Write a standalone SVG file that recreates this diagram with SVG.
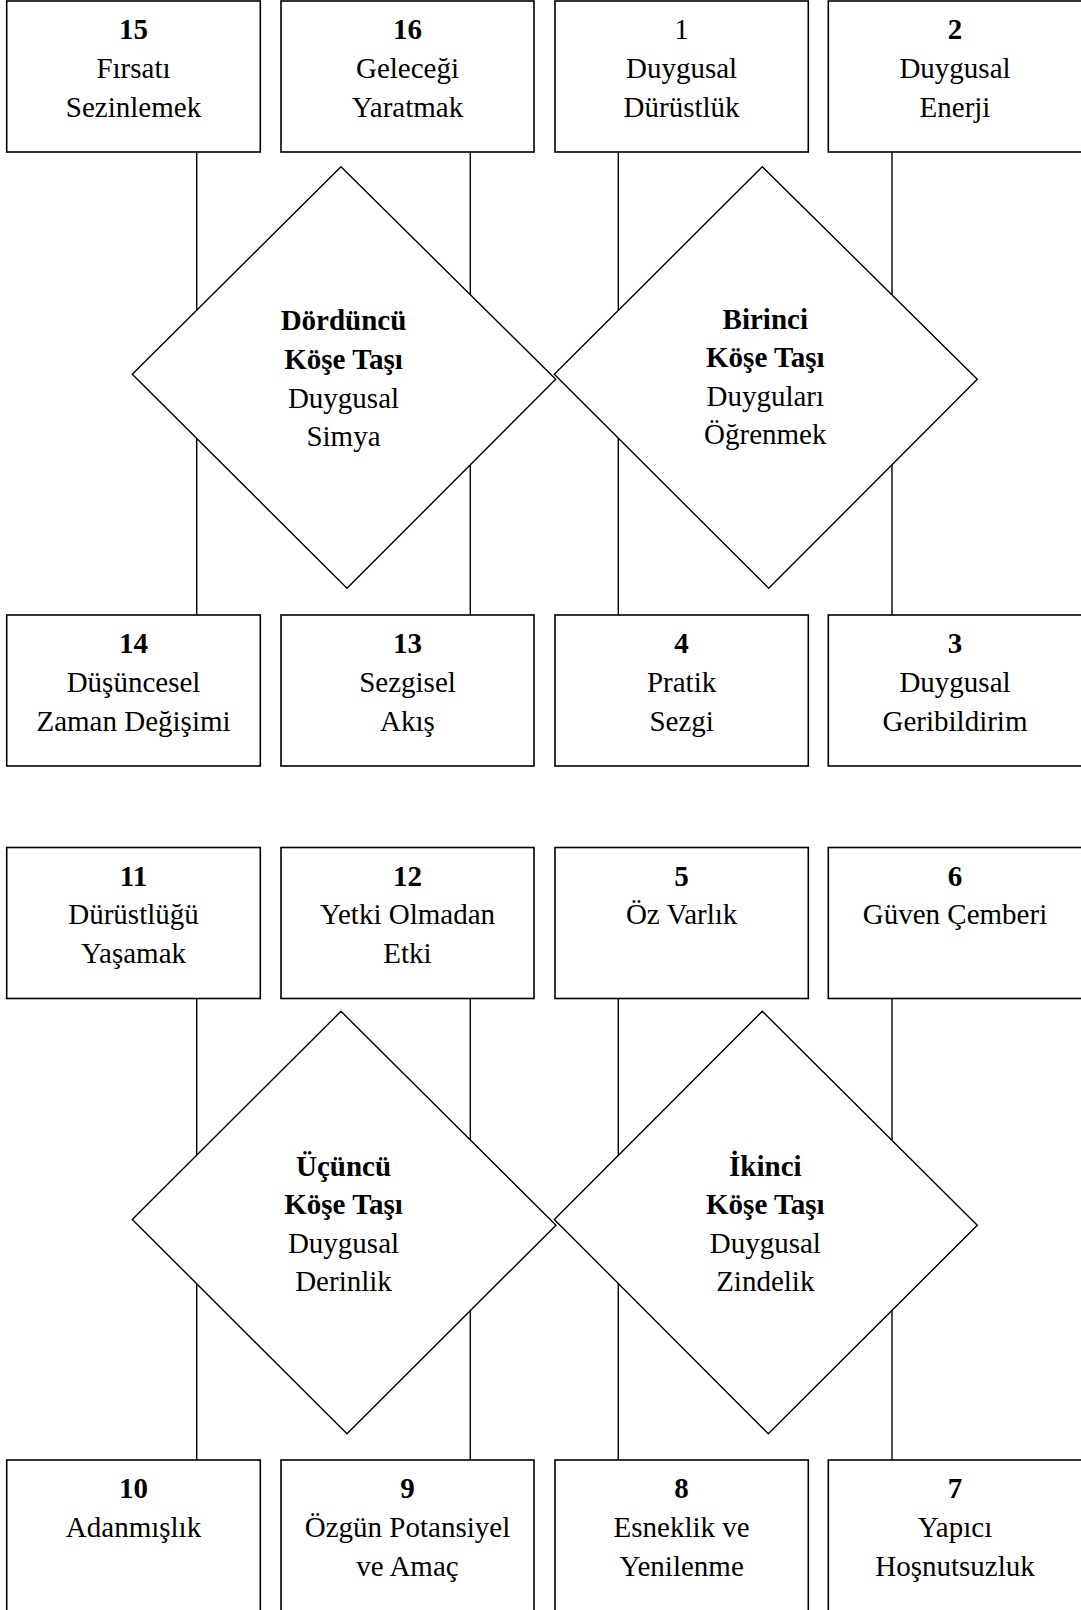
<svg xmlns="http://www.w3.org/2000/svg" width="1081" height="1610" viewBox="0 0 1081 1610">
<style>
.box{fill:#fff;stroke:#000;stroke-width:1.6}
.dia{fill:#fff;stroke:#000;stroke-width:1.4;stroke-linejoin:miter}
.conn line{stroke:#000;stroke-width:1.4}
text{font-family:"Liberation Serif","Times New Roman",serif;font-size:29px;fill:#000;text-anchor:middle}
.b{font-weight:bold}
</style>
<rect width="1081" height="1610" fill="#fff"/>
<g id="connectors" class="conn">
<line x1="196.7" y1="152" x2="196.7" y2="615"/>
<line x1="470.3" y1="152" x2="470.3" y2="615"/>
<line x1="618.3" y1="152" x2="618.3" y2="615"/>
<line x1="892" y1="152" x2="892" y2="615"/>
<line x1="196.7" y1="998.5" x2="196.7" y2="1460"/>
<line x1="470.3" y1="998.5" x2="470.3" y2="1460"/>
<line x1="618.3" y1="998.5" x2="618.3" y2="1460"/>
<line x1="892" y1="998.5" x2="892" y2="1460"/>
</g>
<g id="n15"><rect class="box" x="6.7" y="1" width="253.6" height="151"/><text x="133.5" y="39" class="b">15</text><text x="133.5" y="77.5">Fırsatı</text><text x="133.5" y="116.5">Sezinlemek</text></g>
<g id="n16"><rect class="box" x="281" y="1" width="253" height="151"/><text x="407.5" y="39" class="b">16</text><text x="407.5" y="77.5">Geleceği</text><text x="407.5" y="116.5">Yaratmak</text></g>
<g id="n1"><rect class="box" x="555" y="1" width="253.3" height="151"/><text x="681.6" y="39">1</text><text x="681.6" y="77.5">Duygusal</text><text x="681.6" y="116.5">Dürüstlük</text></g>
<g id="n2"><rect class="box" x="828.3" y="1" width="253.5" height="151"/><text x="955" y="39" class="b">2</text><text x="955" y="77.5">Duygusal</text><text x="955" y="116.5">Enerji</text></g>
<g id="n14"><rect class="box" x="6.7" y="615" width="253.6" height="151"/><text x="133.5" y="653.3" class="b">14</text><text x="133.5" y="691.5">Düşüncesel</text><text x="133.5" y="730.5">Zaman Değişimi</text></g>
<g id="n13"><rect class="box" x="281" y="615" width="253" height="151"/><text x="407.5" y="653.3" class="b">13</text><text x="407.5" y="691.5">Sezgisel</text><text x="407.5" y="730.5">Akış</text></g>
<g id="n4"><rect class="box" x="555" y="615" width="253.3" height="151"/><text x="681.6" y="653.3" class="b">4</text><text x="681.6" y="691.5">Pratik</text><text x="681.6" y="730.5">Sezgi</text></g>
<g id="n3"><rect class="box" x="828.3" y="615" width="253.5" height="151"/><text x="955" y="653.3" class="b">3</text><text x="955" y="691.5">Duygusal</text><text x="955" y="730.5">Geribildirim</text></g>
<g id="n11"><rect class="box" x="6.7" y="847.5" width="253.6" height="151"/><text x="133.5" y="885.5" class="b">11</text><text x="133.5" y="924">Dürüstlüğü</text><text x="133.5" y="963">Yaşamak</text></g>
<g id="n12"><rect class="box" x="281" y="847.5" width="253" height="151"/><text x="407.5" y="885.5" class="b">12</text><text x="407.5" y="924">Yetki Olmadan</text><text x="407.5" y="963">Etki</text></g>
<g id="n5"><rect class="box" x="555" y="847.5" width="253.3" height="151"/><text x="681.6" y="885.5" class="b">5</text><text x="681.6" y="924">Öz Varlık</text></g>
<g id="n6"><rect class="box" x="828.3" y="847.5" width="253.5" height="151"/><text x="955" y="885.5" class="b">6</text><text x="955" y="924">Güven Çemberi</text></g>
<g id="n10"><rect class="box" x="6.7" y="1460" width="253.6" height="152"/><text x="133.5" y="1498" class="b">10</text><text x="133.5" y="1536.7">Adanmışlık</text></g>
<g id="n9"><rect class="box" x="281" y="1460" width="253" height="152"/><text x="407.5" y="1498" class="b">9</text><text x="407.5" y="1536.7">Özgün Potansiyel</text><text x="407.5" y="1575.5">ve Amaç</text></g>
<g id="n8"><rect class="box" x="555" y="1460" width="253.3" height="152"/><text x="681.6" y="1498" class="b">8</text><text x="681.6" y="1536.7">Esneklik ve</text><text x="681.6" y="1575.5">Yenilenme</text></g>
<g id="n7"><rect class="box" x="828.3" y="1460" width="253.5" height="152"/><text x="955" y="1498" class="b">7</text><text x="955" y="1536.7">Yapıcı</text><text x="955" y="1575.5">Hoşnutsuzluk</text></g>
<g id="d4"><polygon class="dia" points="341,166.7 555.7,379.3 347,588.3 132.3,374.3"/><text x="343.5" y="330" class="b">Dördüncü</text><text x="343.5" y="369.3" class="b">Köşe Taşı</text><text x="343.5" y="407.7">Duygusal</text><text x="343.5" y="446">Simya</text></g>
<g id="d1"><polygon class="dia" points="762.3,166.7 977.3,379.3 768.7,588.3 554.3,374.3"/><text x="765.3" y="328.5" class="b">Birinci</text><text x="765.3" y="367" class="b">Köşe Taşı</text><text x="765.3" y="405.5">Duyguları</text><text x="765.3" y="443.5">Öğrenmek</text></g>
<g id="d3"><polygon class="dia" points="341,1011.3 556,1225.2 347,1433.8 132.3,1219.4"/><text x="343.5" y="1175.5" class="b">Üçüncü</text><text x="343.5" y="1214" class="b">Köşe Taşı</text><text x="343.5" y="1252.5">Duygusal</text><text x="343.5" y="1291">Derinlik</text></g>
<g id="d2"><polygon class="dia" points="762.3,1011.3 977.3,1225.2 768.3,1433.8 554.3,1219.4"/><text x="765.3" y="1175.5" class="b">İkinci</text><text x="765.3" y="1214" class="b">Köşe Taşı</text><text x="765.3" y="1252.5">Duygusal</text><text x="765.3" y="1291">Zindelik</text></g>
</svg>
